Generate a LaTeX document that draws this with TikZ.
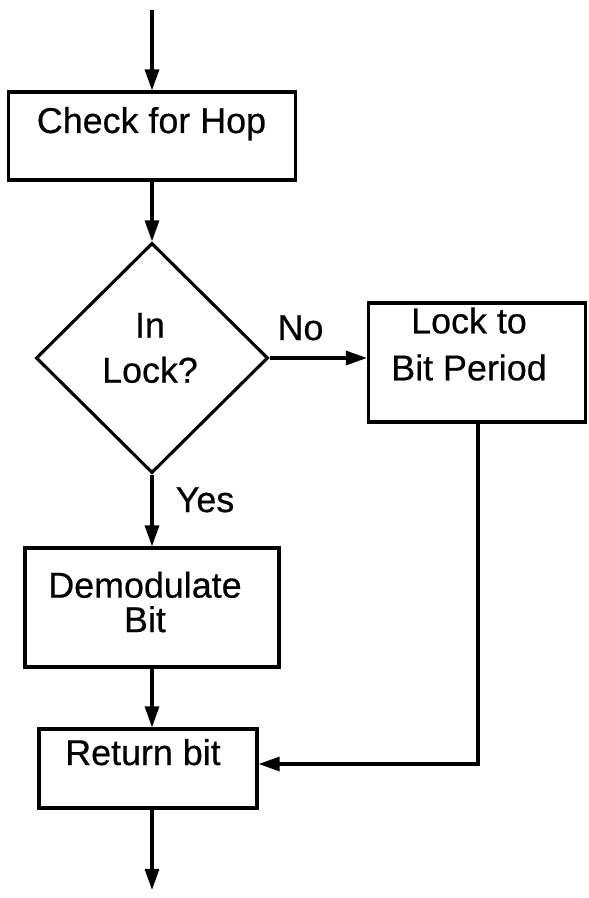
\documentclass[tikz,border=0pt]{standalone}
\usepackage{fontspec}
\setmainfont[FakeBold=0.5]{Liberation Sans}
\usetikzlibrary{arrows.meta,shapes.geometric}
\begin{document}
\begin{tikzpicture}[x=0.025cm,y=-0.025cm,
    box/.style={draw,line width=2.2pt,inner sep=0pt},
    decision/.style={draw,diamond,line width=2.2pt,inner sep=0pt},
    txt/.style={inner sep=0pt,align=center,font=\fontsize{25.5}{#1}\selectfont},
    txt/.default=30pt,
    flow/.style={line width=2.2pt,-{Triangle[length=15pt,width=10pt]}}]
\useasboundingbox (0,0) rectangle (588,898);
\coordinate (start) at (152,10);
\coordinate (stop) at (152,890);
\coordinate (corner) at (478,764);
\node[box,minimum width=7.175cm,minimum height=2.2cm] (check) at (152,136) {};
\node[decision,minimum width=5.8cm,minimum height=5.75cm] (inlock) at (152,358) {};
\node[box,minimum width=5.425cm,minimum height=2.975cm] (bitlock) at (477,362.5) {};
\node[box,minimum width=6.35cm,minimum height=2.975cm] (demod) at (152,607.5) {};
\node[box,minimum width=5.45cm,minimum height=1.975cm] (ret) at (148,768.5) {};
\node[txt,anchor=base] (checktxt) at (151.5,133) {Check for Hop};
\node[txt=32pt] (inlocktxt) at (150,348) {In\\Lock?};
\node[txt=33.4pt] (bitlocktxt) at (469,344) {Lock to\\Bit Period};
\node[txt=24.5pt] (demodtxt) at (145,602) {Demodulate\\Bit};
\node[txt,anchor=base] (rettxt) at (143,765) {Return bit};
\node[txt,anchor=base] (no) at (300.5,340) {No};
\node[txt,anchor=base] (yes) at (205,512) {Yes};
\draw[flow] (start) -- (check);
\draw[flow] (check) -- (inlock);
\draw[flow] (inlock.east) -- (inlock.east -| bitlock.west);
\draw[flow] (inlock) -- (demod);
\draw[flow] (demod.south) -- (demod.south |- ret.north);
\draw[flow] (bitlock.south -| corner) -- (corner) -- (corner -| ret.east);
\draw[flow] (stop |- ret.south) -- (stop);
\end{tikzpicture}
\end{document}
